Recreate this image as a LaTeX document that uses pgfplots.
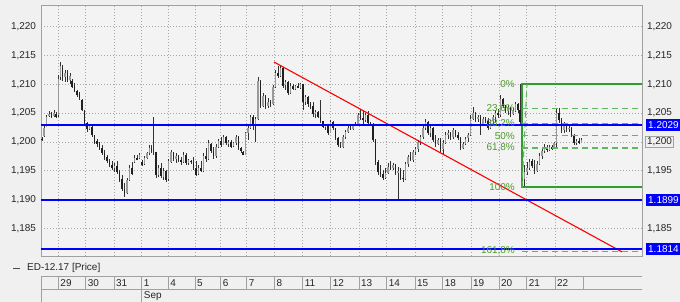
\documentclass[border=0pt]{standalone}
\usepackage{pgfplots}
\pgfplotsset{compat=1.18}
\usepackage{pgfplotstable}
\usepackage{fontspec}
\setmainfont{Liberation Sans}
\definecolor{bgc}{HTML}{F0F0F0}
\definecolor{plotbg}{HTML}{F3F3F3}
\definecolor{gridc}{HTML}{A8A8A8}
\definecolor{framec}{HTML}{A0A0A0}
\definecolor{trendred}{HTML}{FF0000}
\definecolor{fibsolid}{HTML}{2E9E2E}
\definecolor{fibdash}{HTML}{5FB85F}
\definecolor{fibtext}{HTML}{4C9A2A}
\definecolor{upbody}{HTML}{9A9A9A}
\definecolor{downbody}{HTML}{202020}
\newcommand{\lbl}{\fontsize{10}{12}\selectfont}

% x = bar position (chart pixels), h l o c = high low open close
\pgfplotstableread{
x h l o c
42 1.2008 1.2002 1.2006 1.2004
44 1.2027 1.2008 1.2010 1.2025
46.5 1.2047 1.2026 1.2026 1.2044
49 1.2053 1.2043 1.2045 1.2049
51.5 1.2052 1.2041 1.2048 1.2044
54 1.2055 1.2043 1.2045 1.2051
56 1.2052 1.2041 1.2049 1.2043
58.5 1.2116 1.2043 1.2046 1.2110
60.5 1.2139 1.2108 1.2112 1.2132
62.5 1.2134 1.2106 1.2130 1.2112
65 1.2125 1.2104 1.2112 1.2120
67.5 1.2124 1.2104 1.2120 1.2108
70 1.2119 1.2100 1.2108 1.2114
72 1.2110 1.2093 1.2106 1.2095
74.5 1.2102 1.2086 1.2097 1.2089
77 1.2090 1.2078 1.2089 1.2082
79.5 1.2087 1.2072 1.2083 1.2076
82 1.2074 1.2053 1.2072 1.2055
84.5 1.2055 1.2029 1.2054 1.2033
87 1.2035 1.2018 1.2032 1.2022
89.5 1.2032 1.2020 1.2022 1.2028
92 1.2027 1.2009 1.2026 1.2012
94.5 1.2012 1.1997 1.2012 1.2000
97 1.2006 1.1992 1.2001 1.1996
99.5 1.2000 1.1986 1.1997 1.1990
102 1.1995 1.1977 1.1990 1.1980
104.5 1.1986 1.1968 1.1980 1.1972
107 1.1977 1.1963 1.1973 1.1966
109.5 1.1971 1.1957 1.1966 1.1960
112 1.1966 1.1951 1.1960 1.1955
114.5 1.1963 1.1948 1.1955 1.1958
117 1.1967 1.1945 1.1958 1.1948
119.5 1.1951 1.1931 1.1948 1.1934
122 1.1942 1.1914 1.1935 1.1918
124.5 1.1928 1.1904 1.1918 1.1910
127 1.1937 1.1910 1.1912 1.1933
129.5 1.1960 1.1933 1.1933 1.1955
132 1.1966 1.1942 1.1955 1.1945
134.5 1.1977 1.1963 1.1965 1.1972
137 1.1977 1.1968 1.1972 1.1970
139.5 1.1980 1.1970 1.1972 1.1978
142 1.1968 1.1958 1.1966 1.1960
144.5 1.1975 1.1960 1.1962 1.1972
147 1.1983 1.1970 1.1972 1.1980
149.5 1.1995 1.1977 1.1980 1.1990
151.5 1.1995 1.1980 1.1990 1.1985
153.5 1.2044 1.1978 1.1985 1.1982
156 1.1983 1.1937 1.1982 1.1942
158.5 1.1960 1.1939 1.1943 1.1955
161 1.1963 1.1937 1.1955 1.1940
163.5 1.1954 1.1934 1.1940 1.1950
166 1.1951 1.1931 1.1950 1.1934
168.5 1.1971 1.1933 1.1936 1.1966
171 1.1986 1.1963 1.1966 1.1982
173.5 1.1983 1.1966 1.1982 1.1970
176 1.1980 1.1963 1.1970 1.1975
178.5 1.1977 1.1965 1.1975 1.1968
181 1.1974 1.1960 1.1968 1.1965
183.5 1.1983 1.1963 1.1966 1.1978
186 1.1980 1.1960 1.1978 1.1963
188.5 1.1971 1.1960 1.1963 1.1968
191 1.1969 1.1962 1.1967 1.1965
193.5 1.1974 1.1951 1.1965 1.1955
196 1.1966 1.1940 1.1955 1.1943
198.5 1.1960 1.1942 1.1945 1.1955
201 1.1966 1.1948 1.1955 1.1950
203.5 1.1980 1.1948 1.1950 1.1975
206 1.1989 1.1966 1.1975 1.1970
208.5 1.2003 1.1968 1.1970 1.1998
211 1.1999 1.1980 1.1996 1.1984
213.5 1.1992 1.1971 1.1984 1.1975
216 1.1997 1.1973 1.1975 1.1992
218.5 1.2006 1.1989 1.1992 1.2002
221 1.2009 1.1992 1.2002 1.1995
223.5 1.2012 1.1994 1.1995 1.2008
226 1.2010 1.1995 1.2008 1.1998
228.5 1.2003 1.1992 1.1998 1.2000
231 1.2003 1.1989 1.2000 1.1992
233.5 1.2000 1.1991 1.1993 1.1998
236 1.2012 1.1995 1.1998 1.2008
238.5 1.2010 1.1986 1.2008 1.1989
241 1.1992 1.1980 1.1989 1.1984
243 1.1984 1.1977 1.1983 1.1978
245.5 1.2018 1.1977 1.1978 1.2015
248 1.2027 1.2003 1.2015 1.2024
250.5 1.2047 1.2022 1.2024 1.2044
253 1.2046 1.2021 1.2044 1.2030
255.5 1.2044 1.2000 1.2030 1.2040
258 1.2113 1.2038 1.2040 1.2105
260.5 1.2108 1.2058 1.2105 1.2062
263 1.2085 1.2060 1.2062 1.2080
265.5 1.2082 1.2058 1.2080 1.2062
268 1.2076 1.2058 1.2062 1.2070
270.5 1.2073 1.2061 1.2070 1.2066
273 1.2099 1.2064 1.2066 1.2096
275.5 1.2125 1.2094 1.2096 1.2120
278 1.2131 1.2111 1.2120 1.2114
280.5 1.2134 1.2112 1.2114 1.2128
283 1.2130 1.2093 1.2128 1.2098
285.5 1.2108 1.2090 1.2098 1.2104
288 1.2106 1.2081 1.2104 1.2085
290.5 1.2102 1.2083 1.2085 1.2098
293 1.2100 1.2090 1.2098 1.2092
295.5 1.2099 1.2090 1.2092 1.2097
298 1.2102 1.2093 1.2097 1.2094
300.5 1.2102 1.2092 1.2094 1.2100
303 1.2100 1.2055 1.2100 1.2070
305.5 1.2081 1.2064 1.2070 1.2078
308 1.2079 1.2061 1.2078 1.2066
310.5 1.2070 1.2058 1.2066 1.2062
313 1.2070 1.2044 1.2062 1.2048
315.5 1.2055 1.2041 1.2048 1.2052
318 1.2053 1.2041 1.2052 1.2044
320.5 1.2073 1.2032 1.2044 1.2036
323 1.2036 1.2024 1.2036 1.2026
325.5 1.2032 1.2021 1.2026 1.2029
328 1.2030 1.2012 1.2029 1.2016
330.5 1.2038 1.2015 1.2016 1.2035
333 1.2036 1.2021 1.2035 1.2024
335.5 1.2025 1.2003 1.2024 1.2007
338 1.2009 1.1992 1.2007 1.1995
340.5 1.2000 1.1989 1.1995 1.1992
343 1.2012 1.1990 1.1992 1.2009
345.5 1.2021 1.2006 1.2009 1.2018
348 1.2027 1.2015 1.2018 1.2024
350.5 1.2032 1.2021 1.2024 1.2022
353 1.2032 1.2021 1.2022 1.2030
355.5 1.2035 1.2027 1.2030 1.2028
358 1.2050 1.2027 1.2028 1.2046
360.5 1.2058 1.2038 1.2046 1.2042
363 1.2053 1.2032 1.2042 1.2038
365.5 1.2050 1.2035 1.2038 1.2046
368 1.2053 1.2029 1.2046 1.2033
370.5 1.2035 1.2027 1.2033 1.2030
373 1.2032 1.2000 1.2030 1.2003
375.5 1.2005 1.1960 1.2003 1.1965
378 1.1968 1.1942 1.1965 1.1948
380.5 1.1960 1.1940 1.1948 1.1944
383 1.1951 1.1934 1.1944 1.1938
385.5 1.1954 1.1936 1.1938 1.1946
388 1.1963 1.1944 1.1946 1.1957
390.5 1.1966 1.1951 1.1957 1.1954
393 1.1963 1.1952 1.1954 1.1960
395.5 1.1962 1.1942 1.1960 1.1946
398 1.1957 1.1899 1.1946 1.1950
400.5 1.1954 1.1934 1.1950 1.1938
403 1.1951 1.1931 1.1938 1.1935
405.5 1.1966 1.1934 1.1935 1.1962
408 1.1977 1.1957 1.1962 1.1974
410.5 1.1983 1.1966 1.1974 1.1968
413 1.1986 1.1966 1.1968 1.1982
415.5 1.1992 1.1977 1.1982 1.1988
418 1.2003 1.1983 1.1988 1.2000
420.5 1.2012 1.1995 1.2000 1.2008
423 1.2027 1.2006 1.2008 1.2024
425.5 1.2039 1.2021 1.2024 1.2034
428 1.2036 1.2012 1.2034 1.2016
430.5 1.2029 1.2009 1.2016 1.2024
433 1.2026 1.2000 1.2024 1.2004
435.5 1.2012 1.1992 1.2004 1.1996
438 1.2006 1.1994 1.1996 1.2003
440.5 1.2006 1.1983 1.2003 1.1988
443 1.2003 1.1977 1.1988 1.1998
445.5 1.2018 1.1996 1.1998 1.2012
448 1.2021 1.2006 1.2012 1.2016
450.5 1.2018 1.2003 1.2016 1.2008
453 1.2024 1.2006 1.2008 1.2020
455.5 1.2021 1.2009 1.2020 1.2012
458 1.2018 1.2003 1.2012 1.2006
460.5 1.2008 1.1986 1.2006 1.1990
463 1.2000 1.1988 1.1990 1.1996
465.5 1.2009 1.1995 1.1996 1.2006
468 1.2015 1.2000 1.2006 1.2012
470.5 1.2047 1.2010 1.2012 1.2040
473 1.2061 1.2038 1.2040 1.2050
475.5 1.2052 1.2035 1.2050 1.2040
478 1.2047 1.2035 1.2040 1.2044
480.5 1.2047 1.2012 1.2044 1.2030
483 1.2044 1.2027 1.2030 1.2040
485.5 1.2044 1.2032 1.2040 1.2036
488 1.2041 1.2021 1.2036 1.2024
490.5 1.2038 1.2022 1.2024 1.2036
493 1.2047 1.2029 1.2036 1.2044
495.5 1.2055 1.2035 1.2044 1.2050
498 1.2058 1.2041 1.2050 1.2046
500.5 1.2081 1.2044 1.2046 1.2074
503 1.2076 1.2058 1.2074 1.2062
505.5 1.2064 1.2050 1.2062 1.2054
508 1.2064 1.2047 1.2054 1.2060
510.5 1.2061 1.2044 1.2060 1.2048
513 1.2058 1.2046 1.2048 1.2054
515.5 1.2070 1.2052 1.2054 1.2066
518 1.2068 1.2050 1.2066 1.2056
520 1.2100 1.2030 1.2056 1.2035
522 1.2035 1.1928 1.2035 1.1935
524.5 1.1960 1.1921 1.1935 1.1948
527 1.1966 1.1942 1.1948 1.1955
529.5 1.1971 1.1951 1.1955 1.1966
532 1.1971 1.1954 1.1966 1.1958
534.5 1.1968 1.1945 1.1958 1.1950
537 1.1966 1.1948 1.1950 1.1962
539.5 1.1980 1.1960 1.1962 1.1975
542 1.1989 1.1971 1.1975 1.1985
544.5 1.1997 1.1980 1.1985 1.1992
547 1.1995 1.1983 1.1992 1.1986
549.5 1.1995 1.1985 1.1986 1.1992
552 1.1995 1.1986 1.1992 1.1988
554 1.2000 1.1987 1.1988 1.1998
556.5 1.2058 1.1992 1.1998 1.2050
559 1.2058 1.2032 1.2050 1.2038
561.5 1.2041 1.2015 1.2038 1.2020
564 1.2035 1.2015 1.2020 1.2030
566.5 1.2031 1.2018 1.2030 1.2022
569 1.2027 1.2018 1.2022 1.2025
571.5 1.2026 1.2009 1.2025 1.2012
574 1.2013 1.1995 1.2012 1.1998
576.5 1.2006 1.1995 1.1998 1.2002
579 1.2006 1.1997 1.2002 1.1999
581.5 1.2006 1.1998 1.1999 1.2003
}\bars

\begin{document}
\begin{tikzpicture}
\useasboundingbox (0,0) rectangle (680bp,302bp);
\fill[bgc] (0,0) rectangle (680bp,302bp);
% right-hand tick labels (drawn first so the price boxes cover them)
\begin{axis}[
  at={(41bp,46bp)}, anchor=south west,
  scale only axis, width=601bp, height=251bp,
  xmin=41, xmax=642, ymin=1.18019, ymax=1.22377,
  axis line style={draw=none}, xtick=\empty,
  ytick={1.185,1.195,1.2,1.205,1.21,1.215,1.22},
  yticklabel pos=right, major tick length=0pt,
  yticklabel style={font=\lbl, text=black!85, xshift=1.5bp,
    /pgf/number format/.cd, fixed, fixed zerofill, precision=3, use comma, 1000 sep={}, assume math mode=true},
]
\end{axis}
\begin{axis}[
  at={(41bp,46bp)}, anchor=south west,
  scale only axis, width=601bp, height=251bp,
  xmin=41, xmax=642, ymin=1.18019, ymax=1.22377,
  clip mode=individual,
  axis background/.style={fill=plotbg},
  axis line style={draw=framec, line width=0.8bp},
  xtick={58.3,85.7,114,141.7,168.3,195,220.7,246.7,274.3,302.7,330.7,359,386.7,415,442.7,471,499,526.7,555},
  xticklabels={},
  ytick={1.185,1.19,1.195,1.2,1.205,1.21,1.215,1.22},
  major tick length=0pt,
  grid=major,
  major grid style={draw=gridc, line width=0.6bp, dash pattern=on 1bp off 2bp},
  yticklabel style={font=\lbl, text=black!85, xshift=-1.5bp,
    /pgf/number format/.cd, fixed, fixed zerofill, precision=3, use comma, 1000 sep={}, assume math mode=true},
]
% wicks (high-low)
\addplot[forget plot, draw=none, mark=none, error bars/.cd, y dir=both, y explicit, error mark=none,
  error bar style={draw=black!80, line width=0.6bp}]
  table[x=x, y expr={(\thisrow{h}+\thisrow{l})/2}, y error expr={(\thisrow{h}-\thisrow{l})/2}] {\bars};
% bodies, up
\addplot[forget plot, draw=none, mark=none, restrict expr to domain={\thisrow{c}-\thisrow{o}}{0:1},
  error bars/.cd, y dir=both, y explicit, error mark=none,
  error bar style={draw=upbody, line width=1.6bp}]
  table[x=x, y expr={(\thisrow{o}+\thisrow{c})/2}, y error expr={max(abs(\thisrow{c}-\thisrow{o})/2,0.00004)}] {\bars};
% bodies, down
\addplot[forget plot, draw=none, mark=none, restrict expr to domain={\thisrow{c}-\thisrow{o}}{-1:-0.0000001},
  error bars/.cd, y dir=both, y explicit, error mark=none,
  error bar style={draw=downbody, line width=1.6bp}]
  table[x=x, y expr={(\thisrow{o}+\thisrow{c})/2}, y error expr={max(abs(\thisrow{c}-\thisrow{o})/2,0.00004)}] {\bars};
% trend line
\addplot[draw=trendred, line width=1.1bp, mark=none] coordinates {(274,1.21387) (622,1.1809)};
% fibonacci retracement
\addplot[draw=fibsolid, line width=2bp, mark=none] coordinates {(642,1.2100) (521.5,1.2100) (521.5,1.1921) (642,1.1921)};
\addplot[draw=fibdash, line width=1.1bp, mark=none, dash pattern=on 6bp off 4bp] coordinates {(521.5,1.20578) (642,1.20578)};
\addplot[draw=fibdash, line width=1.1bp, mark=none, dash pattern=on 6bp off 4bp] coordinates {(521.5,1.20316) (642,1.20316)};
\addplot[draw=fibdash, line width=1.1bp, mark=none, dash pattern=on 6bp off 4bp] coordinates {(521.5,1.20105) (642,1.20105)};
\addplot[draw=fibdash, line width=1.1bp, mark=none, dash pattern=on 6bp off 4bp] coordinates {(521.5,1.19894) (642,1.19894)};
\addplot[draw=fibdash, line width=1.1bp, mark=none, dash pattern=on 6bp off 4bp] coordinates {(521.5,1.18104) (642,1.18104)};
\addplot[draw=fibdash, line width=1.1bp, mark=none, dash pattern=on 6bp off 4bp] coordinates {(522,1.1921) (527,1.2100)};
% horizontal support levels (drawn last, over everything)
\addplot[draw=blue, line width=2bp, mark=none] coordinates {(41,1.1899) (642,1.1899)};
\addplot[draw=blue, line width=2bp, mark=none] coordinates {(41,1.1814) (642,1.1814)};
\addplot[draw=blue, line width=2bp, mark=none] coordinates {(41,1.2029) (642,1.2029)};
\begin{scope}[every node/.style={font=\lbl, text=fibtext, anchor=east, inner sep=0pt}]
\node at (axis cs:515,1.2100) {0\%};
\node at (axis cs:515,1.20578) {23,6\%};
\node at (axis cs:515,1.20316) {38,2\%};
\node at (axis cs:515,1.20105) {50\%};
\node at (axis cs:515,1.19894) {61,8\%};
\node at (axis cs:515,1.1921) {100\%};
\node at (axis cs:515,1.18104) {161,8\%};
\end{scope}
% price boxes on right
\begin{scope}[every node/.style={font=\lbl, text=white, fill=blue, anchor=west, inner xsep=2bp, inner ysep=0pt, minimum height=12bp}]
\node at (axis cs:646,1.2029) {1.2029};
\node at (axis cs:646,1.1899) {1.1899};
\node at (axis cs:646,1.1814) {1.1814};
\end{scope}
\draw[framec, line width=0.6bp] (axis cs:645.5,1.19905) rectangle (axis cs:673.5,1.20095);
\end{axis}
% legend and date table
\begin{scope}[x=1bp, y=1bp]
\draw[black!70, line width=0.8] (13,34) -- (20,34);
\node[anchor=west, inner sep=0pt, font=\lbl, text=black!85] at (27,34) {ED-12.17 [Price]};
\draw[framec, line width=0.8] (41,26) -- (642,26);
\draw[framec, line width=0.8] (41,12.7) -- (642,12.7);
\draw[framec, line width=0.8] (41,0) -- (41,26);
\draw[framec, line width=0.8] (141.7,0) -- (141.7,12.7);
\foreach \x/\d in {58.3/29,85.7/30,114/31,141.7/1,168.3/4,195/5,220.7/6,246.7/7,274.3/8,302.7/11,330.7/12,359/13,386.7/14,415/15,442.7/18,471/19,499/20,526.7/21,555/22}{
  \draw[framec, line width=0.8] (\x,12.7) -- (\x,26);
  \node[anchor=west, inner sep=0pt, font=\lbl, text=black!85] at (\x+2,19.3) {\d};
}
\draw[framec, line width=0.8] (583,12.7) -- (583,26);
\node[anchor=west, inner sep=0pt, font=\lbl, text=black!85] at (143.7,6.3) {Sep};
\end{scope}
\end{tikzpicture}
\end{document}
